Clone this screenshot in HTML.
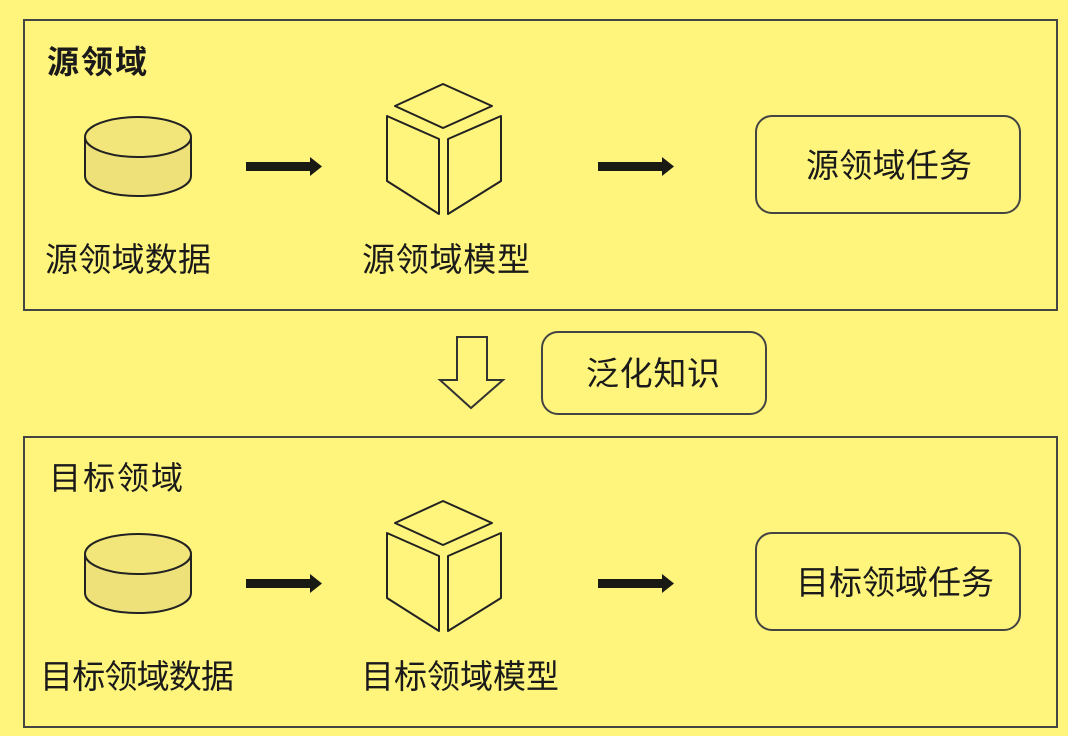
<!DOCTYPE html>
<html><head><meta charset="utf-8"><style>
html,body{margin:0;padding:0;background:#fff47c;}
svg{display:block}
text{font-family:"Liberation Sans","Noto Sans CJK SC",sans-serif;fill:#1a1a1a}
</style></head><body>
<svg width="1068" height="736" viewBox="0 0 1068 736" xmlns="http://www.w3.org/2000/svg">
<rect width="1068" height="736" fill="#fff47c"/>
<g id="top">
<rect x="24" y="20" width="1033" height="290" fill="none" stroke="#444" stroke-width="2"/>
<text x="47" y="73" font-size="32" font-weight="bold" textLength="100">源领域</text>
<path d="M85,137 L85,176 A53,20 0 0 0 191,176 L191,137" fill="#eee17a" stroke="#222" stroke-width="2"/>
<ellipse cx="138" cy="137" rx="53" ry="20" fill="#f2e57a" stroke="#222" stroke-width="2"/>
<rect x="246" y="162" width="66" height="9" fill="#1a1a14"/>
<polygon points="310,157 322,166.5 310,176" fill="#1a1a14"/>
<rect x="598" y="162" width="66" height="9" fill="#1a1a14"/>
<polygon points="662,157 674,166.5 662,176" fill="#1a1a14"/>
<g fill="none" stroke="#222" stroke-width="2" stroke-linejoin="round">
<polygon points="443,84 492,106 443,128 395,106"/>
<polygon points="387,116 439,139 439,214 387,181"/>
<polygon points="448,139 501,116 501,181 448,214"/>
</g>
<rect x="756" y="116" width="264" height="97" rx="16" fill="none" stroke="#444" stroke-width="2"/>
<text x="806" y="177" font-size="33" textLength="166">源领域任务</text>
<text x="45" y="271" font-size="33" textLength="166">源领域数据</text>
<text x="362" y="271" font-size="33" textLength="168">源领域模型</text>
</g>
<polygon points="457,337 487,337 487,380 503,380 471,408 440,380 457,380" fill="none" stroke="#333" stroke-width="2"/>
<rect x="542" y="332" width="224" height="82" rx="16" fill="none" stroke="#444" stroke-width="2"/>
<text x="586" y="385" font-size="33" textLength="134">泛化知识</text>
<g>
<rect x="24" y="437" width="1033" height="290" fill="none" stroke="#444" stroke-width="2"/>
<text x="49" y="489" font-size="32" textLength="134">目标领域</text>
<path d="M85,554 L85,593 A53,20 0 0 0 191,593 L191,554" fill="#eee17a" stroke="#222" stroke-width="2"/>
<ellipse cx="138" cy="554" rx="53" ry="20" fill="#f2e57a" stroke="#222" stroke-width="2"/>
<rect x="246" y="579" width="66" height="9" fill="#1a1a14"/>
<polygon points="310,574 322,583.5 310,593" fill="#1a1a14"/>
<rect x="598" y="579" width="66" height="9" fill="#1a1a14"/>
<polygon points="662,574 674,583.5 662,593" fill="#1a1a14"/>
<g fill="none" stroke="#222" stroke-width="2" stroke-linejoin="round">
<polygon points="443,501 492,523 443,545 395,523"/>
<polygon points="387,533 439,556 439,631 387,598"/>
<polygon points="448,556 501,533 501,598 448,631"/>
</g>
<rect x="756" y="533" width="264" height="97" rx="16" fill="none" stroke="#444" stroke-width="2"/>
<text x="796" y="594" font-size="33" textLength="198">目标领域任务</text>
<text x="40" y="688" font-size="33" textLength="194">目标领域数据</text>
<text x="361" y="688" font-size="33" textLength="198">目标领域模型</text>
</g>
</svg>
</body></html>
